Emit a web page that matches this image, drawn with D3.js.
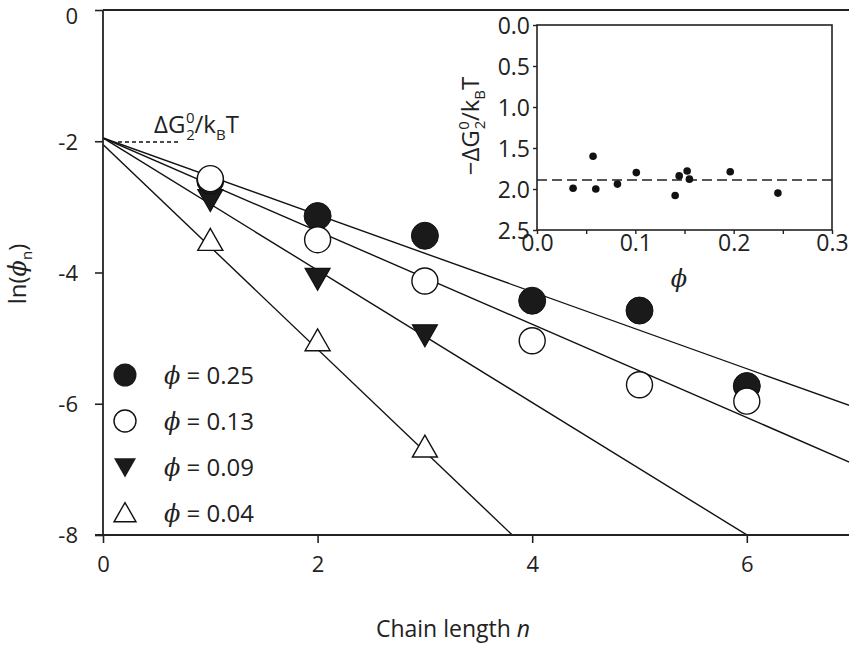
<!DOCTYPE html>
<html>
<head>
<meta charset="utf-8">
<script src="https://cdn.jsdelivr.net/npm/d3@7"></script>
<style>
  html, body { margin: 0; padding: 0; background: #fff; }
  svg { display: block; font-family: "Open Sans", "DejaVu Sans", sans-serif; }
</style>
</head>
<body>
<svg id="chart" width="849" height="645"></svg>
<script>
// ---------- DATA ----------
const nValues = [1, 2, 3, 4, 5, 6];
const phi025 = [-2.60, -3.14, -3.44, -4.43, -4.58, -5.73];
const phi013 = [-2.57, -3.50, -4.13, -5.04, -5.71, -5.96];
const phi009 = [-2.89, -4.09, -4.95];
const phi004 = [-3.51, -5.04, -6.66];
// fitted lines: [intercept, slope]
const fit025 = [-1.95, -0.586];
const fit013 = [-1.95, -0.71];
const fit009 = [-1.95, -1.008];
const fit004 = [-2.05, -1.56];
const legendLabels = ["0.25", "0.13", "0.09", "0.04"];
const xTicks = [0, 2, 4, 6];
const yTicks = [0, -2, -4, -6, -8];
// inset data
const insetPhi = [0.0367, 0.057, 0.0598, 0.0818, 0.101, 0.1405, 0.1446, 0.1527, 0.155, 0.1965, 0.245];
const insetG   = [1.99, 1.60, 2.00, 1.94, 1.80, 2.08, 1.84, 1.78, 1.88, 1.79, 2.05];
const insetMean = 1.89;
const insetXTicks = [0, 0.1, 0.2, 0.3];
const insetXMinor = [0.05, 0.15, 0.25];
const insetYTicks = [0, 0.5, 1.0, 1.5, 2.0, 2.5];

// ---------- LAYOUT ----------
const svg = d3.select("#chart");
const L = 103, R = 849, T = 10, B = 535;
const x = d3.scaleLinear().domain([0, (R - L) / 107.3]).range([L, R]);
const y = d3.scaleLinear().domain([0, -8]).range([T, B]);
const PHI = "\u03D5";

svg.append("clipPath").attr("id", "clipMain")
  .append("rect").attr("x", L).attr("y", T).attr("width", R - L).attr("height", B - T);

// fit lines
const fits = [fit025, fit013, fit009, fit004];
const lineGen = d3.line().x(d => x(d[0])).y(d => y(d[1]));
const gLines = svg.append("g").attr("clip-path", "url(#clipMain)");
fits.forEach(f => {
  const pts = [0, 8].map(n => [n, f[0] + f[1] * n]);
  gLines.append("path").attr("d", lineGen(pts))
    .attr("fill", "none").attr("stroke", "#111").attr("stroke-width", 1.4);
});

// symbols
const triDown = (cx, cy, s) => `M${cx - s},${cy - s * 0.8}L${cx + s},${cy - s * 0.8}L${cx},${cy + s * 0.95}Z`;
const triUp = (cx, cy, s) => `M${cx - s},${cy + s * 0.8}L${cx + s},${cy + s * 0.8}L${cx},${cy - s * 0.95}Z`;

const gPts = svg.append("g");
phi004.forEach((v, i) => {
  gPts.append("path").attr("d", triUp(x(nValues[i]), y(v), 12.5))
    .attr("fill", "#fff").attr("stroke", "#111").attr("stroke-width", 1.4);
});
phi009.forEach((v, i) => {
  gPts.append("path").attr("d", triDown(x(nValues[i]), y(v), 12.5))
    .attr("fill", "#1a1a1a").attr("stroke", "#111").attr("stroke-width", 1.2);
});
phi025.forEach((v, i) => {
  gPts.append("circle").attr("cx", x(nValues[i])).attr("cy", y(v)).attr("r", 13.5)
    .attr("fill", "#1a1a1a").attr("stroke", "#111").attr("stroke-width", 1);
});
phi013.forEach((v, i) => {
  gPts.append("circle").attr("cx", x(nValues[i])).attr("cy", y(v)).attr("r", 13)
    .attr("fill", "#fff").attr("stroke", "#111").attr("stroke-width", 1.4);
});

// axes
const axisColor = "#222";
svg.append("line").attr("x1", L).attr("x2", R).attr("y1", T).attr("y2", T)
  .attr("stroke", axisColor).attr("stroke-width", 1.8);
svg.append("line").attr("x1", L).attr("x2", L).attr("y1", T).attr("y2", B)
  .attr("stroke", axisColor).attr("stroke-width", 1.8);
svg.append("line").attr("x1", L - 8).attr("x2", R).attr("y1", B).attr("y2", B)
  .attr("stroke", axisColor).attr("stroke-width", 1.8);

const gx = svg.append("g").attr("transform", `translate(0,${B})`)
  .call(d3.axisBottom(x).tickValues(xTicks).tickSize(8).tickPadding(13).tickFormat(d3.format("d")));
const gy = svg.append("g").attr("transform", `translate(${L},0)`)
  .call(d3.axisLeft(y).tickValues(yTicks).tickSize(8).tickPadding(17).tickFormat(d => d === 0 ? "0" : "-" + Math.abs(d)));
[gx, gy].forEach(g => {
  g.select(".domain").remove();
  g.selectAll(".tick line").attr("stroke", axisColor).attr("stroke-width", 1.6);
  g.selectAll(".tick text").attr("font-size", 22).attr("fill", "#222")
    .attr("font-family", "'Open Sans', sans-serif");
});
gy.selectAll(".tick text").attr("dy", "0.36em");
gy.selectAll(".tick").filter(d => d === 0).select("text").attr("dy", "0.62em");

// axis labels
const xl = svg.append("text").attr("x", 453).attr("y", 637).attr("text-anchor", "middle")
  .attr("font-size", 23).attr("fill", "#222");
xl.append("tspan").text("Chain length ");
xl.append("tspan").attr("font-style", "italic").text("n");

const yl = svg.append("text").attr("transform", "translate(26,274) rotate(-90)")
  .attr("text-anchor", "middle").attr("font-size", 24).attr("fill", "#222");
yl.append("tspan").text("ln(");
yl.append("tspan").attr("font-style", "italic").attr("font-family", "'DejaVu Serif', serif").text(PHI);
yl.append("tspan").attr("font-size", 15).attr("dy", 6).text("n");
yl.append("tspan").attr("dy", -6).text(")");

// annotation
svg.append("line").attr("x1", 118).attr("x2", 180).attr("y1", 142).attr("y2", 142)
  .attr("stroke", "#111").attr("stroke-width", 1.6).attr("stroke-dasharray", "4,3");
const ann = svg.append("text").attr("x", 154).attr("y", 133).attr("font-size", 24).attr("fill", "#222");
ann.append("tspan").text("ΔG");
ann.append("tspan").attr("font-size", 15).attr("dx", 1).attr("dy", 7).text("2");
ann.append("tspan").attr("font-size", 15).attr("dx", -9).attr("dy", -17).text("0");
ann.append("tspan").attr("dy", 10).text("/k");
ann.append("tspan").attr("font-size", 15).attr("dy", 7).text("B");
ann.append("tspan").attr("dy", -7).text("T");

// legend
const legY = [375, 421, 467, 513];
const legX = 125;
const gLeg = svg.append("g");
gLeg.append("circle").attr("cx", legX).attr("cy", legY[0]).attr("r", 11.5).attr("fill", "#1a1a1a");
gLeg.append("circle").attr("cx", legX).attr("cy", legY[1]).attr("r", 11).attr("fill", "#fff")
  .attr("stroke", "#111").attr("stroke-width", 1.4);
gLeg.append("path").attr("d", triDown(legX, legY[2], 11)).attr("fill", "#1a1a1a");
gLeg.append("path").attr("d", triUp(legX, legY[3], 11)).attr("fill", "#fff")
  .attr("stroke", "#111").attr("stroke-width", 1.4);
legendLabels.forEach((lab, i) => {
  const t = gLeg.append("text").attr("x", 164).attr("y", legY[i] + 9).attr("font-size", 24).attr("fill", "#222");
  t.append("tspan").attr("font-style", "italic").attr("font-family", "'DejaVu Serif', serif").text(PHI);
  t.append("tspan").text(" = " + lab);
});

// ---------- INSET ----------
const iL = 537, iR = 832, iT = 25, iB = 230;
const ix = d3.scaleLinear().domain([0, 0.3]).range([iL, iR]);
const iy = d3.scaleLinear().domain([0, 2.5]).range([iT, iB]);
const gi = svg.append("g");
gi.append("rect").attr("x", iL).attr("y", iT).attr("width", iR - iL).attr("height", iB - iT)
  .attr("fill", "#fff").attr("stroke", "#222").attr("stroke-width", 1.6);
gi.append("line").attr("x1", iL).attr("x2", iR).attr("y1", iy(insetMean)).attr("y2", iy(insetMean))
  .attr("stroke", "#222").attr("stroke-width", 1.5).attr("stroke-dasharray", "10,5");
insetPhi.forEach((p, i) => {
  gi.append("circle").attr("cx", ix(p)).attr("cy", iy(insetG[i])).attr("r", 3.8).attr("fill", "#111");
});
const gix = gi.append("g").attr("transform", `translate(0,${iB})`)
  .call(d3.axisBottom(ix).tickValues(insetXTicks).tickSize(4).tickPadding(1).tickFormat(d3.format(".1f")));
const gixm = gi.append("g").attr("transform", `translate(0,${iB})`)
  .call(d3.axisBottom(ix).tickValues(insetXMinor).tickSize(4).tickFormat(""));
const giy = gi.append("g").attr("transform", `translate(${iL},0)`)
  .call(d3.axisLeft(iy).tickValues(insetYTicks).tickSize(4).tickPadding(3).tickFormat(d3.format(".1f")));
[gix, gixm, giy].forEach(g => {
  g.select(".domain").remove();
  g.selectAll(".tick line").attr("stroke", "#222").attr("stroke-width", 1.4);
  g.selectAll(".tick text").attr("font-size", 23).attr("fill", "#222")
    .attr("font-family", "'Open Sans', sans-serif");
});
giy.selectAll(".tick text").attr("dy", "0.36em");

gi.append("text").attr("x", 679).attr("y", 287).attr("text-anchor", "middle")
  .attr("font-size", 24).attr("font-style", "italic").attr("font-family", "'DejaVu Serif', serif")
  .attr("fill", "#222").text(PHI);

const iyl = gi.append("text").attr("transform", "translate(479,126) rotate(-90)")
  .attr("text-anchor", "middle").attr("font-size", 24).attr("fill", "#222");
iyl.append("tspan").text("\u2212ΔG");
iyl.append("tspan").attr("font-size", 15).attr("dx", 1).attr("dy", 6).text("2");
iyl.append("tspan").attr("font-size", 15).attr("dx", -9).attr("dy", -16).text("0");
iyl.append("tspan").attr("dy", 10).text("/k");
iyl.append("tspan").attr("font-size", 15).attr("dy", 6).text("B");
iyl.append("tspan").attr("dy", -6).text("T");
</script>
</body>
</html>
